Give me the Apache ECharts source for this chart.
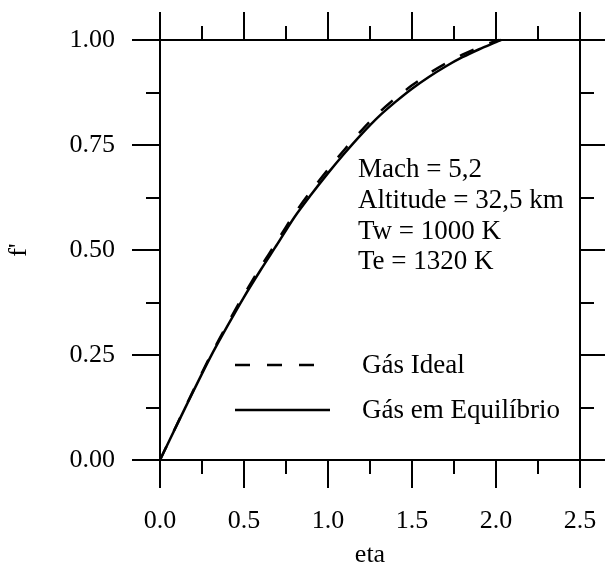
<!DOCTYPE html>
<html>
<head>
<meta charset="utf-8">
<script src="https://cdn.jsdelivr.net/npm/echarts@6/dist/echarts.min.js"></script>
<style>
  html, body { margin: 0; padding: 0; background: #fff; }
  #chart { width: 605px; height: 563px; }
</style>
</head>
<body>
<div id="chart"></div>
<script>
// valores
const etaIdeal = [0, 0.1, 0.2, 0.3, 0.4, 0.5, 0.6, 0.7, 0.8, 0.9, 1.0, 1.1, 1.2, 1.3, 1.4, 1.5, 1.6, 1.7, 1.8, 1.9, 2.0, 2.02]
const fIdeal = [0, 0.084, 0.167, 0.248, 0.323, 0.394, 0.460, 0.523, 0.586, 0.641, 0.692, 0.740, 0.785, 0.826, 0.861, 0.892, 0.920, 0.944, 0.965, 0.983, 0.998, 1.0]
const etaEquil = [0, 0.1, 0.2, 0.3, 0.4, 0.5, 0.6, 0.7, 0.8, 0.9, 1.0, 1.1, 1.2, 1.3, 1.4, 1.5, 1.6, 1.7, 1.8, 1.9, 2.0, 2.03]
const fEquil = [0, 0.083, 0.165, 0.245, 0.318, 0.388, 0.453, 0.515, 0.578, 0.632, 0.683, 0.731, 0.776, 0.817, 0.852, 0.884, 0.912, 0.937, 0.959, 0.978, 0.995, 1.0]

const xTickLabels = ['0.0', '0.5', '1.0', '1.5', '2.0', '2.5']
const yTickLabels = ['0.00', '0.25', '0.50', '0.75', '1.00']
const seriesNames = ['Gás Ideal', 'Gás em Equilíbrio']
const noteLines = ['Mach = 5,2', 'Altitude = 32,5 km', 'Tw = 1000 K', 'Te = 1320 K']

const FONT = 'Liberation Serif'
const black = '#000'

const chart = echarts.init(document.getElementById('chart'))

const tickStyle = { show: true, inside: false, length: 28, lineStyle: { color: black, width: 2 } }
const minorStyle = { show: true, splitNumber: 2, length: 14, lineStyle: { color: black, width: 2 } }
const lineAxis = { show: true, onZero: false, lineStyle: { color: black, width: 2 } }

function xAxisBase(pos) {
  return {
    type: 'value',
    position: pos,
    min: 0,
    max: 2.5,
    interval: 0.5,
    axisLine: lineAxis,
    axisTick: tickStyle,
    minorTick: minorStyle,
    splitLine: { show: false }
  }
}
function yAxisBase(pos) {
  return {
    type: 'value',
    position: pos,
    min: 0,
    max: 1,
    interval: 0.25,
    axisLine: lineAxis,
    axisTick: tickStyle,
    minorTick: minorStyle,
    splitLine: { show: false }
  }
}

const option = {
  backgroundColor: '#fff',
  animation: false,
  grid: { left: 160, right: 25, top: 40, bottom: 103, outerBoundsMode: 'none', containLabel: false },
  xAxis: [
    Object.assign(xAxisBase('bottom'), {
      name: 'eta',
      nameLocation: 'middle',
      nameGap: 82,
      nameTextStyle: { fontFamily: FONT, fontSize: 26, color: black },
      axisLabel: {
        show: true,
        margin: 48,
        fontFamily: FONT,
        fontSize: 26,
        color: black,
        showMinLabel: true,
        showMaxLabel: true,
        formatter: v => xTickLabels[Math.round(v / 0.5)]
      }
    }),
    Object.assign(xAxisBase('top'), { axisLabel: { show: false } })
  ],
  yAxis: [
    Object.assign(yAxisBase('left'), {
      name: "f'",
      nameLocation: 'middle',
      nameGap: 128,
      nameTextStyle: { fontFamily: FONT, fontSize: 26, color: black },
      axisLabel: {
        show: true,
        margin: 45,
        fontFamily: FONT,
        fontSize: 26,
        color: black,
        showMinLabel: true,
        showMaxLabel: true,
        formatter: v => yTickLabels[Math.round(v / 0.25)]
      }
    }),
    Object.assign(yAxisBase('right'), { axisLabel: { show: false } })
  ],
  series: [
    {
      name: seriesNames[0],
      type: 'line',
      xAxisIndex: 0,
      yAxisIndex: 0,
      data: etaIdeal.map((e, i) => [e, fIdeal[i]]),
      smooth: 0.3,
      symbol: 'none',
      clip: false,
      lineStyle: { color: black, width: 2.5, type: [15, 17] },
      z: 2
    },
    {
      name: seriesNames[1],
      type: 'line',
      xAxisIndex: 0,
      yAxisIndex: 0,
      data: etaEquil.map((e, i) => [e, fEquil[i]]),
      smooth: 0.3,
      symbol: 'none',
      clip: false,
      lineStyle: { color: black, width: 2.5 },
      z: 3
    }
  ],
  graphic: [
    {
      type: 'text',
      left: 358,
      top: 155,
      style: {
        text: noteLines.join('\n'),
        fontFamily: FONT,
        fontSize: 27,
        lineHeight: 30.6,
        fill: black
      }
    },
    // legenda
    {
      type: 'line',
      shape: { x1: 235, y1: 365, x2: 330, y2: 365 },
      style: { stroke: black, lineWidth: 2.5, lineDash: [15, 17] }
    },
    {
      type: 'line',
      shape: { x1: 235, y1: 410, x2: 330, y2: 410 },
      style: { stroke: black, lineWidth: 2.5 }
    },
    {
      type: 'text',
      x: 362,
      y: 366,
      style: { text: seriesNames[0], fontFamily: FONT, fontSize: 27, fill: black, verticalAlign: 'middle' }
    },
    {
      type: 'text',
      x: 362,
      y: 411,
      style: { text: seriesNames[1], fontFamily: FONT, fontSize: 27, fill: black, verticalAlign: 'middle' }
    }
  ]
}

chart.setOption(option)
</script>
</body>
</html>
